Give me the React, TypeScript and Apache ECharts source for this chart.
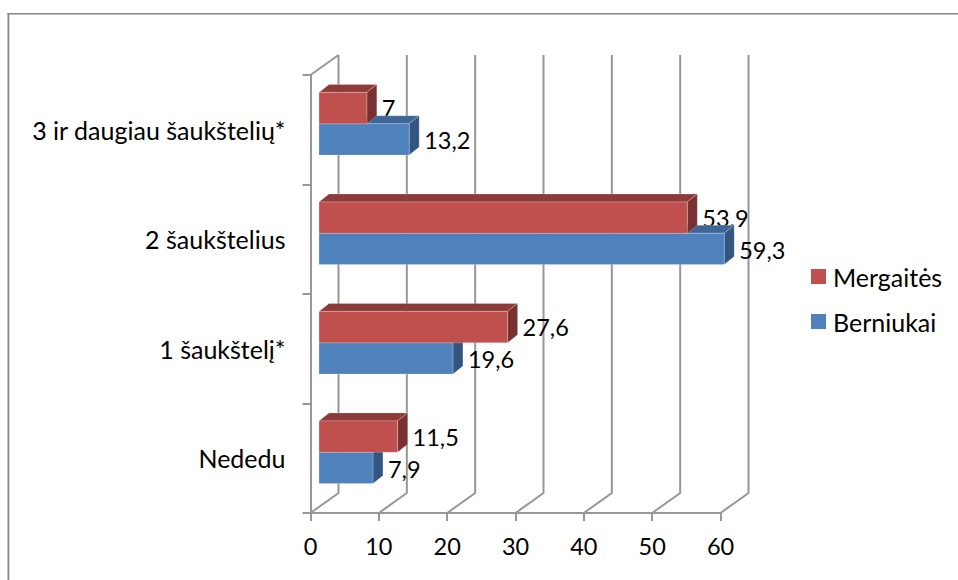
import React, { useEffect, useRef } from "react";
import * as echarts from "echarts";

const categories = ["Nededu", "1 šaukštelį*", "2 šaukštelius", "3 ir daugiau šaukštelių*"];
const berniukai = [7.9, 19.6, 59.3, 13.2];
const mergaites = [11.5, 27.6, 53.9, 7];
const xTicks = [0, 10, 20, 30, 40, 50, 60];
const berniukaiName = "Berniukai";
const mergaitesName = "Mergaitės";

const FONT = "Lato";
const FS = 25;
const FS_NUM = 23.5;
const TEXT = "#000000";
const GRID = "#979797";
const GRID_W = 2;
const EDGE = "rgba(255,255,255,0.22)";
const WALL = [28, -20];
const BAR_OFF = [8.5, -6];
const BAR_DEPTH = [10, -8];
const BAR_FRAC = 0.2865;

const toDash = (v: number) => String(v).replace(".", ",");

function barRenderer(side: -1 | 1, front: string, top: string, right: string) {
  return (_p: any, api: any) => {
    const v = api.value(0);
    const i = api.value(1);
    const end = api.coord([v, i]);
    const start = api.coord([0, i]);
    const h = api.size([0, 1])[1] * BAR_FRAC;
    const x0 = start[0] + BAR_OFF[0];
    const x1 = end[0] + BAR_OFF[0];
    const cy = end[1] + BAR_OFF[1];
    const yTop = side < 0 ? cy - h : cy;
    const yBot = yTop + h;
    const [dx, dy] = BAR_DEPTH;
    return {
      type: "group",
      children: [
        {
          type: "polygon",
          shape: { points: [[x0, yTop], [x1, yTop], [x1 + dx, yTop + dy], [x0 + dx, yTop + dy]] },
          style: { fill: top, stroke: EDGE, lineWidth: 1 },
        },
        {
          type: "polygon",
          shape: { points: [[x1, yTop], [x1 + dx, yTop + dy], [x1 + dx, yBot + dy], [x1, yBot]] },
          style: { fill: right, stroke: EDGE, lineWidth: 1 },
        },
        {
          type: "rect",
          shape: { x: x0, y: yTop, width: x1 - x0, height: h },
          style: { fill: front, stroke: EDGE, lineWidth: 1 },
        },
      ],
    };
  };
}

function labelRenderer(side: -1 | 1, gap: number, nudge: number) {
  return (_p: any, api: any) => {
    const v = api.value(0);
    const i = api.value(1);
    const end = api.coord([v, i]);
    const h = api.size([0, 1])[1] * BAR_FRAC;
    const cy = end[1] + BAR_OFF[1] + (side * h) / 2 + nudge;
    return {
      type: "text",
      x: end[0] + BAR_OFF[0] + gap,
      y: cy,
      style: {
        text: toDash(v),
        fill: TEXT,
        font: `${FS_NUM}px ${FONT}`,
        textAlign: "left",
        textVerticalAlign: "middle",
      },
    };
  };
}

const wallRenderer = (p: any, api: any) => {
  const v = api.value(0);
  const cs = p.coordSys;
  const x = api.coord([v, 0])[0];
  const bottom = cs.y + cs.height;
  const top = cs.y;
  const [dx, dy] = WALL;
  const lineStyle = { stroke: GRID, lineWidth: GRID_W, fill: "none" };
  const children: any[] = [
    {
      type: "polyline",
      shape: { points: [[x, bottom], [x + dx, bottom + dy], [x + dx, top + dy]] },
      style: lineStyle,
    },
  ];
  if (v === 0) {
    children.push({
      type: "line",
      shape: { x1: x, y1: top, x2: x + dx, y2: top + dy },
      style: lineStyle,
    });
  }
  return { type: "group", children };
};

export default function App() {
  const ref = useRef<HTMLDivElement>(null);
  useEffect(() => {
    const chart = echarts.init(ref.current!, null, { renderer: "svg", width: 958, height: 580 });
    const toPairs = (a: number[]) => a.map((v, i) => [v, i]);
    chart.setOption({
      animation: false,
      backgroundColor: "#ffffff",
      textStyle: { fontFamily: FONT },
      grid: { left: 310.5, top: 75, width: 410, height: 438, containLabel: false },
      xAxis: {
        type: "value",
        min: 0,
        max: 60,
        interval: 10,
        splitLine: { show: false },
        axisLine: { show: true, onZero: false, lineStyle: { color: GRID, width: GRID_W } },
        axisTick: { show: true, length: 8, lineStyle: { color: GRID, width: GRID_W } },
        axisLabel: {
          color: TEXT,
          fontSize: FS_NUM,
          fontFamily: FONT,
          margin: 21,
          formatter: (v: number) => (xTicks.includes(v) ? String(v) : ""),
        },
      },
      yAxis: {
        type: "category",
        data: categories,
        axisLine: { show: true, onZero: false, lineStyle: { color: GRID, width: GRID_W } },
        axisTick: { show: true, length: 8, lineStyle: { color: GRID, width: GRID_W } },
        axisLabel: { color: TEXT, fontSize: FS, fontFamily: FONT, margin: 25, padding: [0, 0, 2, 0] },
        splitLine: { show: false },
      },
      legend: {
        show: true,
        orient: "vertical",
        left: 811,
        top: 264,
        padding: 0,
        itemWidth: 15,
        itemHeight: 15,
        itemGap: 20,
        icon: "rect",
        data: [mergaitesName, berniukaiName],
        textStyle: { color: TEXT, fontSize: FS, fontFamily: FONT, padding: [0, 0, 3, 2] },
      },
      series: [
        {
          type: "custom",
          name: "wall",
          z: 1,
          silent: true,
          clip: false,
          data: xTicks.map((v) => [v]),
          encode: { x: 0 },
          renderItem: wallRenderer,
        },
        {
          type: "custom",
          name: "mergaitesLabels",
          z: 2,
          silent: true,
          clip: false,
          data: toPairs(mergaites),
          encode: { x: 0, y: 1 },
          renderItem: labelRenderer(-1, 15, 0),
        },
        {
          type: "custom",
          name: berniukaiName,
          z: 3,
          silent: true,
          clip: false,
          itemStyle: { color: "#4F81BD" },
          data: toPairs(berniukai),
          encode: { x: 0, y: 1 },
          renderItem: barRenderer(1, "#4F81BD", "#3E6699", "#335581"),
        },
        {
          type: "custom",
          name: mergaitesName,
          z: 4,
          silent: true,
          clip: false,
          itemStyle: { color: "#C0504D" },
          data: toPairs(mergaites),
          encode: { x: 0, y: 1 },
          renderItem: barRenderer(-1, "#C0504D", "#8E3A38", "#7A302E"),
        },
        {
          type: "custom",
          name: "berniukaiLabels",
          z: 5,
          silent: true,
          clip: false,
          data: toPairs(berniukai),
          encode: { x: 0, y: 1 },
          renderItem: labelRenderer(1, 15, 1),
        },
      ],
      graphic: [
        { type: "rect", shape: { x: 7.5, y: 13, width: 951, height: 1.5 }, style: { fill: "#868686" }, silent: true },
        { type: "rect", shape: { x: 7.5, y: 13, width: 1.8, height: 567 }, style: { fill: "#868686" }, silent: true },
      ],
    });
    return () => chart.dispose();
  }, []);
  return <div ref={ref} style={{ position: "absolute", left: 0, top: 0, width: 958, height: 580 }} />;
}
